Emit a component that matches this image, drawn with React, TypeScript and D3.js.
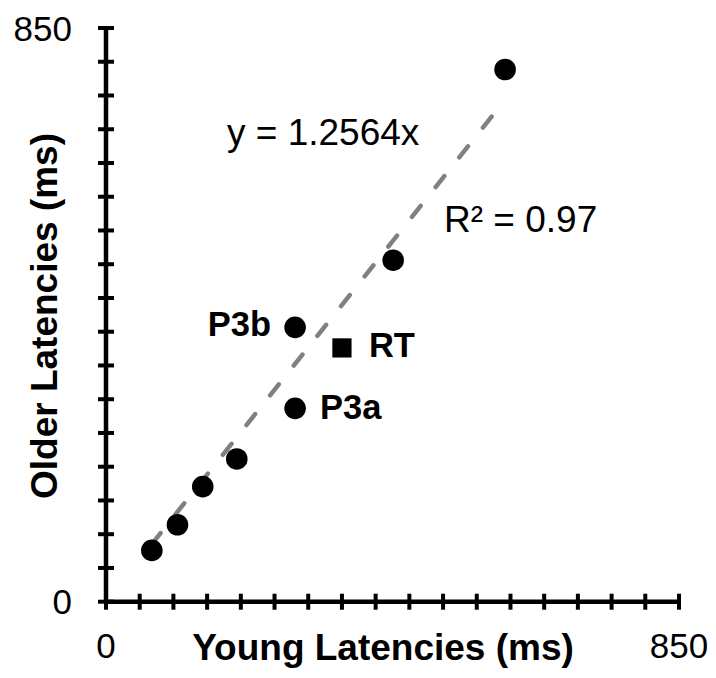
import React from "react";
import * as d3 from "d3";

const youngLat = [68, 106, 143.5, 194, 280.5, 280.5, 426, 592];
const olderLat = [76, 114, 170.5, 211.5, 406.5, 286.5, 506, 788.5];
const pointLabels = ["", "", "", "", "P3b", "P3a", "", ""];
const rtYoung = [350];
const rtOlder = [376];
const rtLabels = ["RT"];
const slope = 1.2564;
const eqText = "y = 1.2564x";
const r2Text = "R² = 0.97";
const axisMax = 850;
const tickStep = 50;
const xTitle = "Young Latencies (ms)";
const yTitle = "Older Latencies (ms)";

const W = 716;
const H = 678;
const FONT = "'Liberation Sans', Arial, sans-serif";

export default function App() {
  const x = d3.scaleLinear().domain([0, axisMax]).range([106, 679]);
  const y = d3.scaleLinear().domain([0, axisMax]).range([601.7, 28]);
  const ticks = d3.range(0, axisMax + 1, tickStep);
  const xMin = d3.min(youngLat) as number;
  const xMax = d3.max(youngLat) as number;
  const trend = d3
    .line<number>()
    .x((d) => x(d))
    .y((d) => y(slope * d))([xMin, xMax]);

  return (
    <svg
      width={W}
      height={H}
      style={{ position: "absolute", left: 0, top: 0, background: "#fff" }}
      fontFamily={FONT}
    >
      <rect width={W} height={H} fill="#fff" />
      {/* trend line */}
      <path
        d={trend || ""}
        stroke="#808080"
        strokeWidth={4.5}
        strokeDasharray="14,24"
        strokeLinecap="round"
        fill="none"
      />
      {/* axes */}
      <line x1={x(0)} x2={x(axisMax)} y1={y(0)} y2={y(0)} stroke="#000" strokeWidth={4.5} />
      <line x1={x(0)} x2={x(0)} y1={y(0)} y2={y(axisMax)} stroke="#000" strokeWidth={4.5} />
      {ticks.map((t) => (
        <line key={"xt" + t} x1={x(t)} x2={x(t)} y1={y(0) - 8} y2={y(0) + 8} stroke="#000" strokeWidth={4} />
      ))}
      {ticks.map((t) => (
        <line key={"yt" + t} x1={x(0) - 8} x2={x(0) + 8} y1={y(t)} y2={y(t)} stroke="#000" strokeWidth={4} />
      ))}
      {/* tick labels */}
      {[0, axisMax].map((t) => (
        <text key={"xl" + t} x={x(t)} y={658} textAnchor="middle" fontSize={35} fill="#000">
          {t}
        </text>
      ))}
      {[0, axisMax].map((t) => (
        <text key={"yl" + t} x={72} y={y(t)} dy="0.36em" textAnchor="end" fontSize={35} fill="#000">
          {t}
        </text>
      ))}
      {/* axis titles */}
      <text x={383} y={660} textAnchor="middle" fontSize={37} fontWeight="bold" fill="#000">
        {xTitle}
      </text>
      <text
        transform={`translate(57,316) rotate(-90)`}
        textAnchor="middle"
        fontSize={37}
        fontWeight="bold"
        fill="#000"
      >
        {yTitle}
      </text>
      {/* points */}
      {youngLat.map((v, i) => (
        <circle key={"p" + i} cx={x(v)} cy={y(olderLat[i])} r={10.8} fill="#000" />
      ))}
      {rtYoung.map((v, i) => (
        <rect key={"rt" + i} x={x(v) - 9.6} y={y(rtOlder[i]) - 9.6} width={19.2} height={19.2} fill="#000" />
      ))}
      {/* point labels */}
      {youngLat.map((v, i) =>
        pointLabels[i] === "P3b" ? (
          <text key={"lb" + i} x={x(v) - 24} y={y(olderLat[i]) + 9} textAnchor="end" fontSize={34.5} fontWeight="bold">
            {pointLabels[i]}
          </text>
        ) : pointLabels[i] ? (
          <text key={"lb" + i} x={x(v) + 25} y={y(olderLat[i]) + 10.5} textAnchor="start" fontSize={34.5} fontWeight="bold">
            {pointLabels[i]}
          </text>
        ) : null
      )}
      {rtYoung.map((v, i) => (
        <text key={"rl" + i} x={x(v) + 27} y={y(rtOlder[i]) + 9.5} textAnchor="start" fontSize={34.5} fontWeight="bold">
          {rtLabels[i]}
        </text>
      ))}
      {/* equation labels */}
      <text x={227} y={145} fontSize={37} fill="#000">
        {eqText}
      </text>
      <text x={444} y={231.5} fontSize={37} fill="#000">
        {r2Text}
      </text>
    </svg>
  );
}
